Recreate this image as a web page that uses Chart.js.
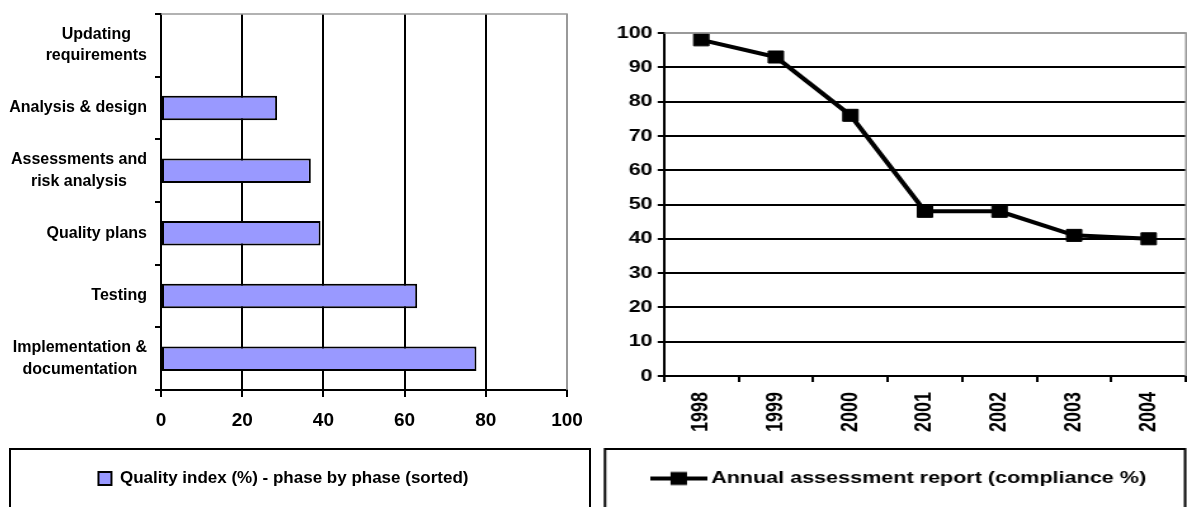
<!DOCTYPE html>
<html>
<head>
<meta charset="utf-8">
<script src="https://cdn.jsdelivr.net/npm/chart.js@4/dist/chart.umd.min.js"></script>
<style>
  body { margin: 0; background: #fff; overflow: hidden; }
  #leftBox { position: absolute; left: 0; top: 0; width: 597px; height: 507px; }
  /* the right chart in the original is stretched sideways */
  #rightBox { position: absolute; left: 597px; top: 0; width: 465px; height: 507px;
              transform: scaleX(1.2688); transform-origin: 0 0; }
</style>
</head>
<body>
<div id="leftBox"><canvas id="phaseChart"></canvas></div>
<div id="rightBox"><canvas id="yearChart"></canvas></div>
<script>
// left chart: quality index per phase
const phases = [
  ["Updating", "requirements"],
  ["Analysis & design"],
  ["Assessments and", "risk analysis"],
  ["Quality plans"],
  ["Testing"],
  ["Implementation &", "documentation"]
];
const qualityIndex = [0, 28.6, 36.9, 39.3, 63.1, 77.7];
const qualityTicks = [0, 20, 40, 60, 80, 100];

// right chart: annual assessment
const years = ["1998", "1999", "2000", "2001", "2002", "2003", "2004"];
const compliance = [98, 93, 76, 48, 48, 41, 40];

Chart.defaults.font.family = "'Liberation Sans', Arial, sans-serif";
Chart.defaults.font.weight = "bold";
Chart.defaults.color = "#000";
Chart.defaults.animation = false;

// frame around the legend + gray top/right plot border
const framePlugin = {
  id: "frame",
  afterLayout(chart, args, opts) {
    if (opts.shift) chart.legend.left += opts.shift;
  },
  afterDraw(chart, args, opts) {
    const ctx = chart.ctx;
    const a = chart.chartArea;
    ctx.save();
    ctx.strokeStyle = "#999";
    ctx.lineWidth = 1.5;
    ctx.beginPath();
    ctx.moveTo(a.left, a.top);
    ctx.lineTo(a.right, a.top);
    ctx.lineTo(a.right, a.bottom);
    ctx.stroke();
    ctx.strokeStyle = "#000";
    ctx.lineWidth = 2;
    const t = chart.legend.top - 11;
    ctx.strokeRect(opts.left, t, chart.width - opts.left - opts.right, 200);
    ctx.restore();
  }
};

// category labels: block right-aligned, lines centred inside the block
const phaseLabels = {
  id: "phaseLabels",
  afterDraw(chart) {
    const s = chart.scales.y;
    const ctx = chart.ctx;
    ctx.save();
    ctx.font = "bold 16px 'Liberation Sans', Arial, sans-serif";
    ctx.fillStyle = "#000";
    ctx.textAlign = "center";
    ctx.textBaseline = "middle";
    const right = s.right - 14;
    const lh = 21.5;
    chart.data.labels.forEach((lines, i) => {
      const w = Math.max(...lines.map(l => ctx.measureText(l).width));
      const cx = right - w / 2;
      const cy = s.getPixelForTick(i);
      lines.forEach((l, j) => {
        ctx.fillText(l, cx, cy + (j - (lines.length - 1) / 2) * lh);
      });
    });
    ctx.restore();
  }
};

new Chart(document.getElementById("phaseChart"), {
  type: "bar",
  data: {
    labels: phases,
    datasets: [{
      label: "Quality index (%) - phase by phase (sorted)",
      data: qualityIndex,
      backgroundColor: "#9999ff",
      borderColor: "#000",
      borderWidth: 2,
      borderSkipped: false,
      categoryPercentage: 1,
      barPercentage: 0.39
    }]
  },
  options: {
    indexAxis: "y",
    responsive: true,
    maintainAspectRatio: false,
    layout: { padding: { top: 14, right: 30, bottom: 10, left: 0 } },
    plugins: {
      legend: {
        position: "bottom",
        labels: { font: { size: 17, weight: "bold" }, boxWidth: 13, boxHeight: 13, padding: 10 }
      },
      tooltip: { enabled: false },
      frame: { left: 10, right: 7, shift: 0 }
    },
    scales: {
      x: {
        min: 0,
        max: 100,
        afterBuildTicks: s => { s.ticks = qualityTicks.map(v => ({ value: v })); },
        afterFit: s => { s.height = 70; },
        ticks: { font: { size: 19, weight: "bold" }, padding: 12 },
        grid: {
          color: c => (c.tick && c.tick.value === 100) ? "#999" : "#000",
          lineWidth: 2,
          tickColor: "#000",
          tickLength: 7
        },
        border: { color: "#000", width: 2 }
      },
      y: {
        afterFit: s => { s.width = 161; s.paddingTop = 0; s.paddingBottom = 0; },
        ticks: { color: "transparent", font: { size: 16 }, padding: 8 },
        grid: { drawOnChartArea: false, offset: true, color: "#000", lineWidth: 2, tickLength: 6 },
        border: { color: "#000", width: 2 }
      }
    }
  },
  plugins: [framePlugin, phaseLabels]
});

// legend glyph: line with a square marker
const glyph = document.createElement("canvas");
glyph.width = 45;
glyph.height = 16;
const g = glyph.getContext("2d");
g.fillStyle = "#000";
g.fillRect(0, 6, 45, 4);
g.fillRect(16, 1.5, 13, 13);

new Chart(document.getElementById("yearChart"), {
  type: "line",
  data: {
    labels: years,
    datasets: [{
      label: "Annual assessment report (compliance %)",
      data: compliance,
      borderColor: "#000",
      backgroundColor: "#000",
      borderWidth: 4,
      pointStyle: "rect",
      pointRadius: 8.5,
      pointBorderWidth: 1,
      tension: 0
    }]
  },
  options: {
    responsive: true,
    maintainAspectRatio: false,
    layout: { autoPadding: false, padding: { top: 33, right: 0.8, bottom: 10, left: 0 } },
    plugins: {
      legend: {
        position: "bottom",
        labels: {
          font: { size: 17, weight: "bold" },
          usePointStyle: true,
          pointStyle: glyph,
          pointStyleWidth: 34,
          padding: 10
        }
      },
      tooltip: { enabled: false },
      frame: { left: 6.3, right: 1.5, shift: 16 }
    },
    scales: {
      x: {
        offset: true,
        afterFit: s => { s.height = 84; s.paddingLeft = 0; s.paddingRight = 0; },
        ticks: { font: { size: 18, weight: "bold" }, minRotation: 90, maxRotation: 90, padding: 10 },
        grid: { drawOnChartArea: false, offset: true, color: "#000", lineWidth: 2, tickLength: 6 },
        border: { color: "#000", width: 2 }
      },
      y: {
        min: 0,
        max: 100,
        afterFit: s => { s.width = 52.8; },
        ticks: { stepSize: 10, font: { size: 17, weight: "bold" }, padding: 4 },
        grid: {
          color: c => (c.tick && c.tick.value === 100) ? "#999" : "#000",
          lineWidth: 2,
          tickColor: "#000",
          tickLength: 5
        },
        border: { color: "#000", width: 2 }
      }
    }
  },
  plugins: [framePlugin]
});
</script>
</body>
</html>
